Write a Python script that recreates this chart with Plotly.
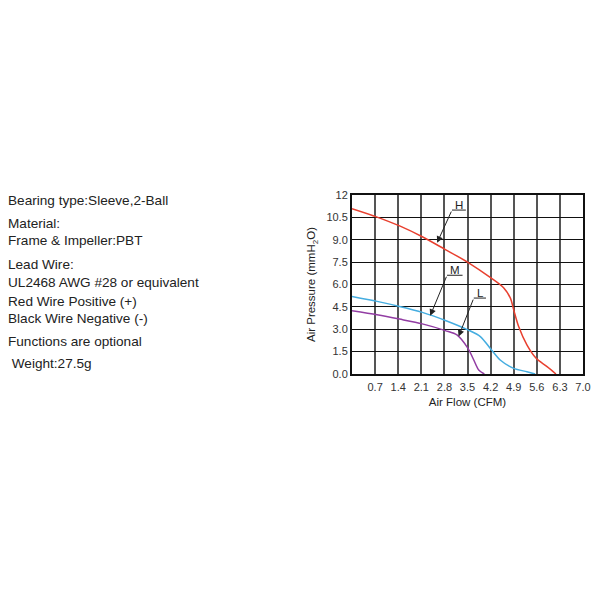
import plotly.graph_objects as go

# Data
h_flow = [0.0, 0.76, 1.46, 2.13, 2.83, 3.51, 4.21, 4.6, 4.8, 4.9, 5.05, 5.3, 5.58, 5.91, 6.18]
h_pressure = [11.08, 10.52, 9.91, 9.2, 8.34, 7.49, 6.44, 5.77, 5.09, 4.3, 3.18, 1.95, 1.05, 0.49, 0.0]

m_flow = [0.0, 0.76, 1.44, 2.13, 2.83, 3.51, 3.89, 4.21, 4.49, 4.9, 5.3, 5.55]
m_pressure = [5.2, 4.87, 4.53, 4.13, 3.59, 2.96, 2.51, 1.66, 0.94, 0.38, 0.15, 0.0]

l_flow = [0.0, 0.76, 1.44, 2.13, 2.83, 3.18, 3.51, 3.69, 3.84, 4.01]
l_pressure = [4.24, 3.97, 3.68, 3.36, 2.91, 2.62, 1.73, 0.94, 0.27, 0.0]

x_ticks = [0.7, 1.4, 2.1, 2.8, 3.5, 4.2, 4.9, 5.6, 6.3, 7.0]
x_tick_labels = ["0.7", "1.4", "2.1", "2.8", "3.5", "4.2", "4.9", "5.6", "6.3", "7.0"]
y_ticks = [0, 1.5, 3, 4.5, 6, 7.5, 9, 10.5, 12]
y_tick_labels = ["0.0", "1.5", "3.0", "4.5", "6.0", "7.5", "9.0", "10.5", "12"]

spec_lines = [
    "Bearing type:Sleeve,2-Ball",
    "Material:",
    "Frame & Impeller:PBT",
    "Lead Wire:",
    "UL2468 AWG #28 or equivalent",
    "Red Wire Positive (+)",
    "Black Wire Negative (-)",
    "Functions are optional",
    " Weight:27.5g",
]
spec_y_px = [200, 223.3, 240.5, 264.3, 282.7, 301.2, 318.5, 341, 363.3]

# curve labels: (name, text x, text y, underline x0, x1, underline y, arrow tip x, tip y)
labels = [
    ("H", 3.24, 11.35, 3.03, 3.45, 10.99, 2.58, 8.8),
    ("M", 3.12, 7.0, 2.88, 3.35, 6.62, 2.37, 3.9),
    ("L", 3.88, 5.45, 3.69, 4.06, 5.09, 3.23, 2.51),
]

series = [
    ("H", h_flow, h_pressure, "#e8402f"),
    ("M", m_flow, m_pressure, "#45ade0"),
    ("L", l_flow, l_pressure, "#923da3"),
]

# page offset (body margin) and plot-area geometry
OFF = 8
ML, MR, MT, MB = 344, 25, 187, 234
PW = 600 - ML - MR
PH = 600 - MT - MB
plot_left_px = OFF + ML
plot_bottom_px = OFF + 600 - MB

fig = go.Figure()
for name, xs, ys, col in series:
    fig.add_trace(go.Scatter(x=xs, y=ys, mode="lines", name=name,
                             line=dict(color=col, width=1.5, shape="spline", smoothing=0.8),
                             showlegend=False, hoverinfo="skip"))

font_family = "Liberation Sans, Arial, sans-serif"

for name, tx, ty, ux0, ux1, uy, hx, hy in labels:
    fig.add_shape(type="line", x0=ux0, x1=ux1, y0=uy, y1=uy, xref="x", yref="y",
                  line=dict(color="#222", width=1))
    fig.add_annotation(x=hx, y=hy, ax=ux0, ay=uy, xref="x", yref="y", axref="x", ayref="y",
                       text="", showarrow=True, arrowhead=2, arrowsize=1.3, arrowwidth=1,
                       arrowcolor="#222", standoff=0, startstandoff=0)
    fig.add_annotation(x=tx, y=ty, xref="x", yref="y", text=name, showarrow=False,
                       font=dict(family=font_family, size=11.5, color="#222"))

for txt, ypx in zip(spec_lines, spec_y_px):
    fig.add_annotation(x=(6 - plot_left_px) / PW, y=(plot_bottom_px - ypx) / PH,
                       xref="paper", yref="paper",
                       xanchor="left", yanchor="middle", text=txt, showarrow=False,
                       font=dict(family=font_family, size=13.6, color="#222"))

fig.update_layout(
    width=600, height=600,
    margin=dict(l=ML, r=MR, t=MT, b=MB),
    paper_bgcolor="white", plot_bgcolor="white",
    font=dict(family=font_family, size=11, color="#333"),
    xaxis=dict(range=[0, 7.0], tickvals=x_ticks, ticktext=x_tick_labels,
               showgrid=True, gridcolor="#555", gridwidth=1.5,
               showline=True, linecolor="#111", linewidth=2, mirror=True,
               zeroline=False, ticks="outside", ticklen=2, tickcolor="rgba(0,0,0,0)",
               title=dict(text="Air Flow (CFM)", standoff=6,
                          font=dict(family=font_family, size=11.5, color="#222"))),
    yaxis=dict(range=[0, 12], tickvals=y_ticks, ticktext=y_tick_labels,
               showgrid=True, gridcolor="#111", gridwidth=1.2,
               showline=True, linecolor="#111", linewidth=2, mirror=True,
               zeroline=False, ticks="",
               title=dict(text="Air Pressure (mmH<sub>2</sub>O)", standoff=8,
                          font=dict(family=font_family, size=11.5, color="#222"))),
)

fig.write_html("out.html")
